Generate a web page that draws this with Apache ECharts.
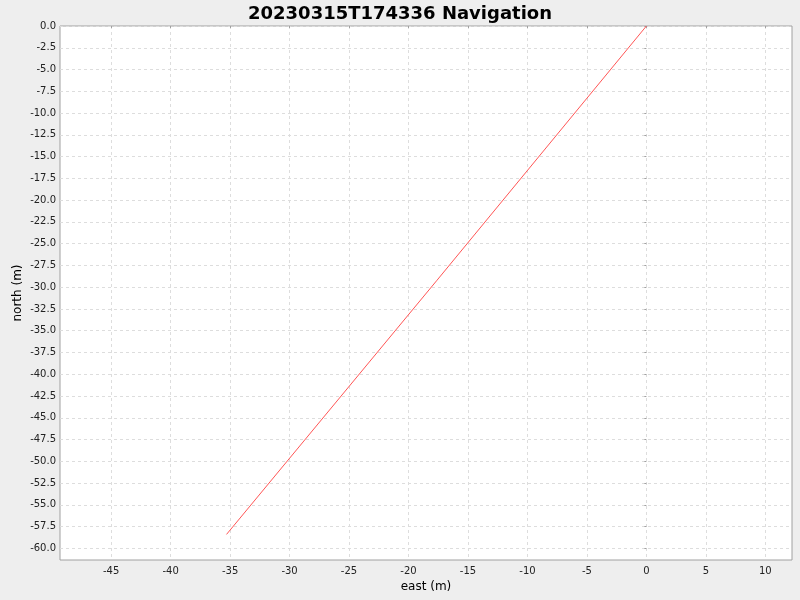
<!DOCTYPE html>
<html><head><meta charset="utf-8">
<script src="https://cdn.jsdelivr.net/npm/echarts@6/dist/echarts.min.js"></script>
<style>html,body{margin:0;padding:0;background:#eeeeee;}#c{width:800px;height:600px;}</style>
</head><body><div id="c"></div>
<script>
const titleText = '20230315T174336 Navigation';
const eastValues = [0.0, -17.6, -35.3];
const northValues = [0.0, -29.2, -58.4];
const xTicks = [-45, -40, -35, -30, -25, -20, -15, -10, -5, 0, 5, 10];
const yTicks = [0, -2.5, -5, -7.5, -10, -12.5, -15, -17.5, -20, -22.5, -25, -27.5, -30, -32.5, -35, -37.5, -40, -42.5, -45, -47.5, -50, -52.5, -55, -57.5, -60];
const xRange = [-49.3, 12.24];
const yRange = [-61.34, 0];

const chart = echarts.init(document.getElementById('c'));
const font = 'DejaVu Sans';
chart.setOption({
  backgroundColor: '#eeeeee',
  animation: false,
  title: {text: titleText, left: 'center', top: 0,
    textStyle: {fontFamily: font, fontWeight: 'bold', fontSize: 18, color: '#000'}},
  grid: {left: 60, right: 8, top: 26, bottom: 40, show: true, backgroundColor: '#ffffff',
    borderColor: '#a0a0a0', borderWidth: 1, containLabel: false, outerBoundsMode: 'none'},
  xAxis: {
    type: 'value', min: xRange[0], max: xRange[1],
    name: 'east (m)', nameLocation: 'middle', nameGap: 21, nameMoveOverlap: false,
    nameTextStyle: {fontFamily: font, fontSize: 12, color: '#000'},
    axisLine: {show: false},
    axisTick: {show: true, length: 2, lineStyle: {color: '#a0a0a0'}, customValues: xTicks},
    axisLabel: {customValues: xTicks, fontFamily: font, fontSize: 10, color: '#222', margin: 6,
      formatter: v => String(Math.round(v))},
    splitLine: {show: true, lineStyle: {color: '#dddddd', type: [3, 3], width: 1}}
  },
  yAxis: {
    type: 'value', min: yRange[0], max: yRange[1],
    name: 'north (m)', nameLocation: 'middle', nameGap: 36, nameMoveOverlap: false,
    nameTextStyle: {fontFamily: font, fontSize: 12, color: '#000'},
    axisLine: {show: false},
    axisTick: {show: true, length: 2, lineStyle: {color: '#a0a0a0'}, customValues: yTicks},
    axisLabel: {customValues: yTicks, fontFamily: font, fontSize: 10, color: '#222', margin: 4,
      formatter: v => v.toFixed(1)},
    splitLine: {show: true, lineStyle: {color: '#dddddd', type: [3, 3], width: 1}}
  },
  series: [{
    type: 'line', showSymbol: false, silent: true,
    data: eastValues.map((e, i) => [e, northValues[i]]),
    lineStyle: {color: '#ff5555', width: 1}
  }]
});
</script></body></html>
